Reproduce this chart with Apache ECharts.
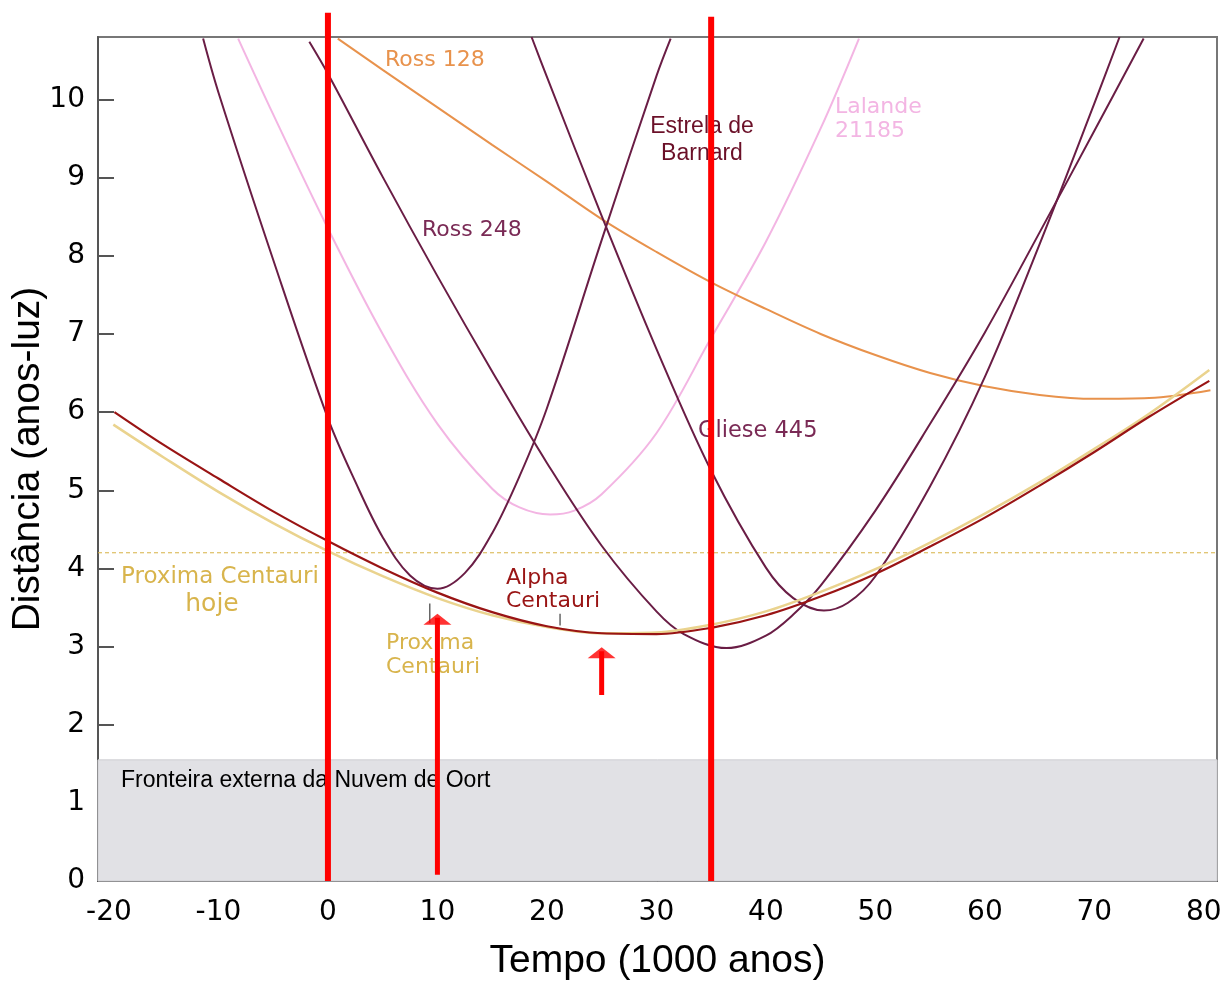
<!DOCTYPE html>
<html>
<head>
<meta charset="utf-8">
<script src="https://cdn.jsdelivr.net/npm/echarts@6/dist/echarts.min.js"></script>
<style>
  html, body { margin: 0; padding: 0; background: #fff; }
  #chart { width: 1227px; height: 981px; }
</style>
</head>
<body>
<div id="chart"></div>
<script>
// tick labels
const ticksX = [-20, -10, 0, 10, 20, 30, 40, 50, 60, 70, 80];
const ticksY = [0, 1, 2, 3, 4, 5, 6, 7, 8, 9, 10];

// distance curves (time in 1000 years, distance in light years)
const alphaT = [-19.5, -15, -10, -5, 0, 5, 10, 15, 20, 25, 30, 35, 40, 45, 50, 55, 60, 65, 70, 75, 80.5];
const alphaD = [6.00, 5.58, 5.15, 4.73, 4.35, 4.00, 3.69, 3.44, 3.26, 3.17, 3.16, 3.24, 3.40, 3.64, 3.93, 4.28, 4.65, 5.06, 5.49, 5.94, 6.40];

const proxT = [-19.6, -15, -10, -5, 0, 5, 10, 15, 20, 25, 30, 35, 40, 45, 50, 55, 60, 65, 70, 75, 80.5];
const proxD = [5.84, 5.42, 4.98, 4.58, 4.22, 3.90, 3.62, 3.40, 3.25, 3.17, 3.18, 3.28, 3.45, 3.70, 3.99, 4.33, 4.70, 5.10, 5.53, 5.98, 6.54];

const ross128T = [0.9, 5, 10, 15, 20, 25, 30, 35, 40, 45, 50, 55, 60, 65, 70, 75, 80.6];
const ross128D = [10.78, 10.38, 9.90, 9.42, 8.95, 8.47, 8.05, 7.66, 7.32, 7.00, 6.73, 6.50, 6.33, 6.22, 6.17, 6.18, 6.28];

const lalandeT = [-8.2, -5, 0, 5, 10, 15, 17.5, 20.3, 22.5, 25, 30, 35, 40, 45, 48.5];
const lalandeD = [10.78, 9.81, 8.35, 7.00, 5.85, 5.02, 4.78, 4.69, 4.74, 4.95, 5.73, 6.95, 8.18, 9.63, 10.78];

const ross248T = [-1.7, 0, 5, 10, 15, 20, 25, 30, 32.5, 36.4, 40, 42.5, 45, 50, 55, 60, 65, 70, 74.5];
const ross248D = [10.74, 10.33, 9.01, 7.74, 6.52, 5.35, 4.29, 3.45, 3.16, 2.98, 3.14, 3.41, 3.78, 4.74, 5.85, 7.02, 8.30, 9.60, 10.78];

const gliese445T = [18.6, 20, 25, 30, 35, 40, 42.5, 45.3, 47.5, 50, 55, 60, 65, 70, 72.3];
const gliese445D = [10.80, 10.29, 8.51, 6.81, 5.25, 4.01, 3.62, 3.46, 3.56, 3.90, 5.05, 6.45, 8.15, 9.95, 10.80];

const barnardT = [-11.4, -10, -5, 0, 2.5, 5, 7.5, 10, 12.5, 15, 17.5, 20, 25, 30, 31.3];
const barnardD = [10.78, 10.09, 7.95, 5.92, 5.11, 4.40, 3.91, 3.74, 3.94, 4.45, 5.18, 6.05, 8.20, 10.30, 10.78];

// reference levels
const proximaToday = 4.20;
const oortEdge = 1.55;

// red annotations
const redLineX = [0, 35];
const redLineTop = [11.11, 11.06];
const arrowX = [10, 25];
const arrowBase = [0.08, 2.38];
const arrowTip = [3.42, 2.99];

// small grey leader ticks
const markX = [9.3, 21.2];
const markLo = [3.30, 3.27];
const markHi = [3.55, 3.42];

const zip = (xs, ys) => xs.map((x, i) => [x, ys[i]]);

const purple = '#6a1d45';
const xMin = -21, xMax = 81.2;

function curve(name, xs, ys, color, width) {
  return {
    name: name, type: 'line', data: zip(xs, ys), showSymbol: false,
    smooth: 0.35, z: 3, silent: true,
    lineStyle: { color: color, width: width }
  };
}

const series = [
  {
    type: 'line', data: [], silent: true, z: 1,
    markArea: {
      silent: true,
      itemStyle: { color: '#e1e1e5', borderColor: '#cfcfd3', borderWidth: 1 },
      data: [[{ yAxis: 0 }, { yAxis: oortEdge }]]
    }
  },
  {
    type: 'line', data: [[xMin, proximaToday], [xMax, proximaToday]], showSymbol: false,
    silent: true, z: 2,
    lineStyle: { color: '#d6b244', type: [4, 3], width: 1 }
  },
  curve('Lalande 21185', lalandeT, lalandeD, '#f3b5e3', 2),
  curve('Ross 128', ross128T, ross128D, '#e8924c', 2),
  curve('Estrela de Barnard', barnardT, barnardD, purple, 2),
  curve('Ross 248', ross248T, ross248D, purple, 2),
  curve('Gliese 445', gliese445T, gliese445D, purple, 2),
  curve('Proxima Centauri', proxT, proxD, '#ead38e', 2.5),
  curve('Alpha Centauri', alphaT, alphaD, '#991414', 2.2)
];

markX.forEach((x, i) => {
  series.push({
    type: 'line', data: [[x, markLo[i]], [x, markHi[i]]], showSymbol: false, silent: true, z: 4,
    lineStyle: { color: '#666', width: 1.5 }
  });
});

redLineX.forEach((x, i) => {
  series.push({
    type: 'line', data: [[x, 0], [x, redLineTop[i]]], showSymbol: false, silent: true,
    clip: false, z: 20,
    lineStyle: { color: '#ff0000', width: 6 }
  });
});

arrowX.forEach((x, i) => {
  series.push({
    type: 'line', data: [[x, arrowBase[i]], [x, arrowTip[i] - 0.05]], showSymbol: false, silent: true,
    z: 20, lineStyle: { color: '#ff0000', width: 5 }
  });
  series.push({
    type: 'scatter', data: [[x, arrowTip[i]]], silent: true, z: 21,
    symbol: 'triangle', symbolSize: [28, 11], symbolOffset: [0, '50%'],
    itemStyle: { color: '#ff0000' }
  });
});

const dv = 'DejaVu Sans';
const lib = 'Liberation Sans';
function txt(s, x, y, color, size, family, align) {
  return {
    type: 'text', x: x, y: y, z: 10, silent: true,
    style: { text: s, fill: color, fontSize: size, fontFamily: family,
             align: align || 'left', verticalAlign: 'middle' }
  };
}

const chart = echarts.init(document.getElementById('chart'));
chart.setOption({
  animation: false,
  backgroundColor: '#fff',
  grid: { left: 98, right: 10, top: 37, bottom: 100, show: true,
          containLabel: false, outerBoundsMode: 'none',
          borderColor: '#777', borderWidth: 2, backgroundColor: 'transparent' },
  xAxis: {
    type: 'value', min: xMin, max: xMax,
    name: 'Tempo (1000 anos)', nameLocation: 'middle', nameGap: 61,
    nameTextStyle: { fontSize: 39, fontFamily: lib, color: '#000' },
    axisLine: { onZero: false, lineStyle: { color: '#555', width: 2 } },
    axisTick: { inside: true, length: 16, customValues: ticksX, lineStyle: { color: '#555', width: 2 } },
    axisLabel: { customValues: ticksX, fontSize: 28, fontFamily: dv, color: '#000', margin: 18 },
    splitLine: { show: false }
  },
  yAxis: {
    type: 'value', min: 0, max: 10.8,
    name: 'Distância (anos-luz)', nameLocation: 'middle', nameGap: 50, nameMoveOverlap: false,
    nameTextStyle: { fontSize: 39, fontFamily: lib, color: '#000' },
    axisLine: { onZero: false, lineStyle: { color: '#555', width: 2 } },
    axisTick: { inside: true, length: 16, customValues: ticksY, lineStyle: { color: '#555', width: 2 } },
    axisLabel: { customValues: ticksY, fontSize: 28, fontFamily: dv, color: '#000', margin: 13 },
    splitLine: { show: false }
  },
  graphic: [
    txt('Ross 128', 385, 60, '#e8924c', 22, dv),
    txt('Estrela de', 702, 127, '#6b1028', 23, lib, 'center'),
    txt('Barnard', 702, 154, '#6b1028', 23, lib, 'center'),
    txt('Lalande', 835, 107, '#f3b5e3', 22, dv),
    txt('21185', 835, 131, '#f3b5e3', 22, dv),
    txt('Ross 248', 422, 230, '#7a2a55', 22, dv),
    txt('Gliese 445', 698, 431, '#7a2a55', 22.5, dv),
    txt('Proxima Centauri', 121, 577, '#d8b44c', 23, dv),
    txt('hoje', 212, 604, '#d8b44c', 25, dv, 'center'),
    txt('Alpha', 506, 578, '#991414', 22, dv),
    txt('Centauri', 506, 601, '#991414', 22, dv),
    txt('Proxima', 386, 643, '#d8b44c', 22, dv),
    txt('Centauri', 386, 667, '#d8b44c', 22, dv),
    txt('Fronteira externa da Nuvem de Oort', 121, 781, '#000', 23, lib)
  ],
  series: series
});
</script>
</body>
</html>
